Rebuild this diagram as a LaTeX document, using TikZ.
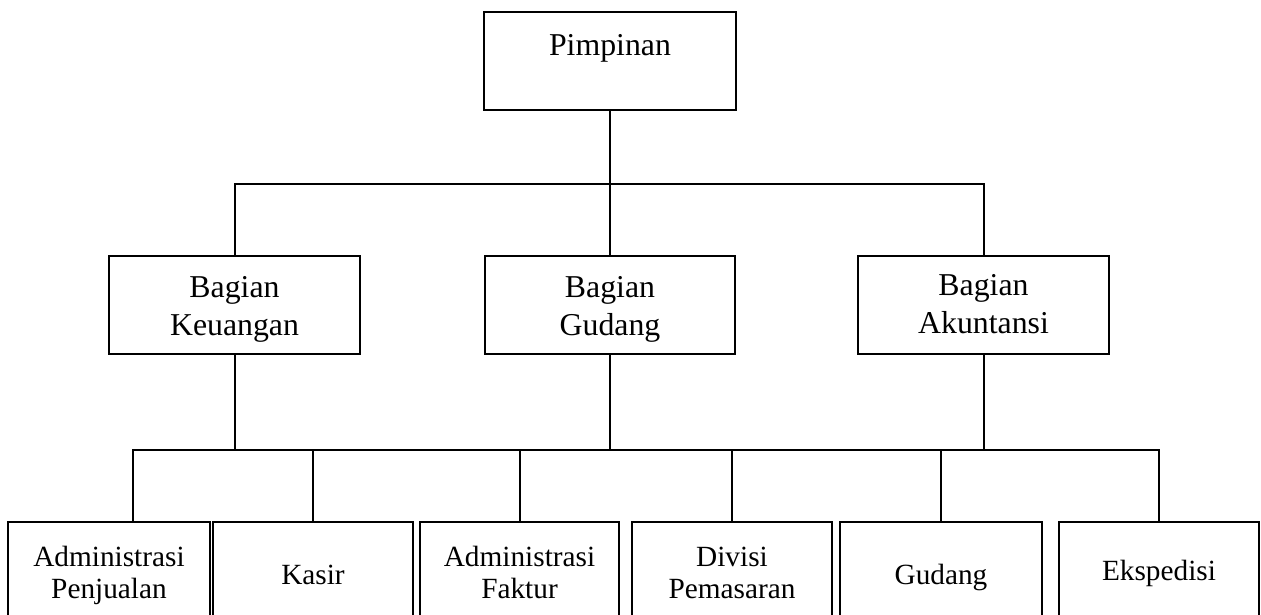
\documentclass[tikz,border=0pt]{standalone}
\usepackage{fontspec}
\setmainfont{Liberation Serif}
\begin{document}
\begin{tikzpicture}[x=1pt,y=-1pt,
  box/.style={draw=black, line width=2pt, rectangle, inner sep=0pt},
  big/.style={font=\fontsize{31.8}{38}\selectfont, align=center, inner sep=0pt},
  small/.style={font=\fontsize{29.3}{32}\selectfont, align=center, inner sep=0pt},
  conn/.style={line width=2pt, line cap=rect}]
\useasboundingbox (0,0) rectangle (1261,615);
\clip (0,0) rectangle (1261,615);
% top
\node[box, minimum width=252pt, minimum height=98pt] (P) at (610,61) {};
\node[big] (Ptext) at (610,48) {Pimpinan};
% middle
\node[box, minimum width=251pt, minimum height=98pt] (K) at (234.5,305) {};
\node[box, minimum width=250pt, minimum height=98pt] (G) at (610,305) {};
\node[box, minimum width=251pt, minimum height=98pt] (A) at (983.5,305) {};
\node[big] (Ktext) at (234.5,309) {\strut Bagian\\Keuangan\strut};
\node[big] (Gtext) at (610,309) {\strut Bagian\\Gudang\strut};
\node[big] (Atext) at (983.5,307) {\strut Bagian\\Akuntansi\strut};
% bottom
\node[box, minimum width=202pt, minimum height=100pt] (b1) at (109,572) {};
\node[box, minimum width=200pt, minimum height=100pt] (b2) at (313,572) {};
\node[box, minimum width=199pt, minimum height=100pt] (b3) at (519.5,572) {};
\node[box, minimum width=200pt, minimum height=100pt] (b4) at (732,572) {};
\node[box, minimum width=202pt, minimum height=100pt] (b5) at (941,572) {};
\node[box, minimum width=200pt, minimum height=100pt] (b6) at (1159,572) {};
\node[small] (t1) at (109,576) {\strut Administrasi\\Penjualan\strut};
\node[small] (t2) at (313,578) {\strut Kasir\strut};
\node[small] (t3) at (519.5,576) {\strut Administrasi\\Faktur\strut};
\node[small] (t4) at (732,576) {\strut Divisi\\Pemasaran\strut};
\node[small] (t5) at (941,578) {\strut Gudang\strut};
\node[small] (t6) at (1159,574) {\strut Ekspedisi\strut};
% junctions
\coordinate (j1) at (610,184);
\coordinate (j2) at (610,450);
\coordinate (d1) at ([xshift=24pt]b1.north);
% connectors
\draw[conn] (P.south) -- (G.north);
\draw[conn] (K.north) |- (j1) -| (A.north);
\draw[conn] (G.south) -- (j2);
\draw[conn] (K.south) -- (K.south |- j2);
\draw[conn] (A.south) -- (A.south |- j2);
\draw[conn] (d1 |- j2) -- (b6.north |- j2);
\draw[conn] (d1) -- (d1 |- j2);
\draw[conn] (b2.north) -- (b2.north |- j2);
\draw[conn] (b3.north) -- (b3.north |- j2);
\draw[conn] (b4.north) -- (b4.north |- j2);
\draw[conn] (b5.north) -- (b5.north |- j2);
\draw[conn] (b6.north) -- (b6.north |- j2);
\end{tikzpicture}
\end{document}
